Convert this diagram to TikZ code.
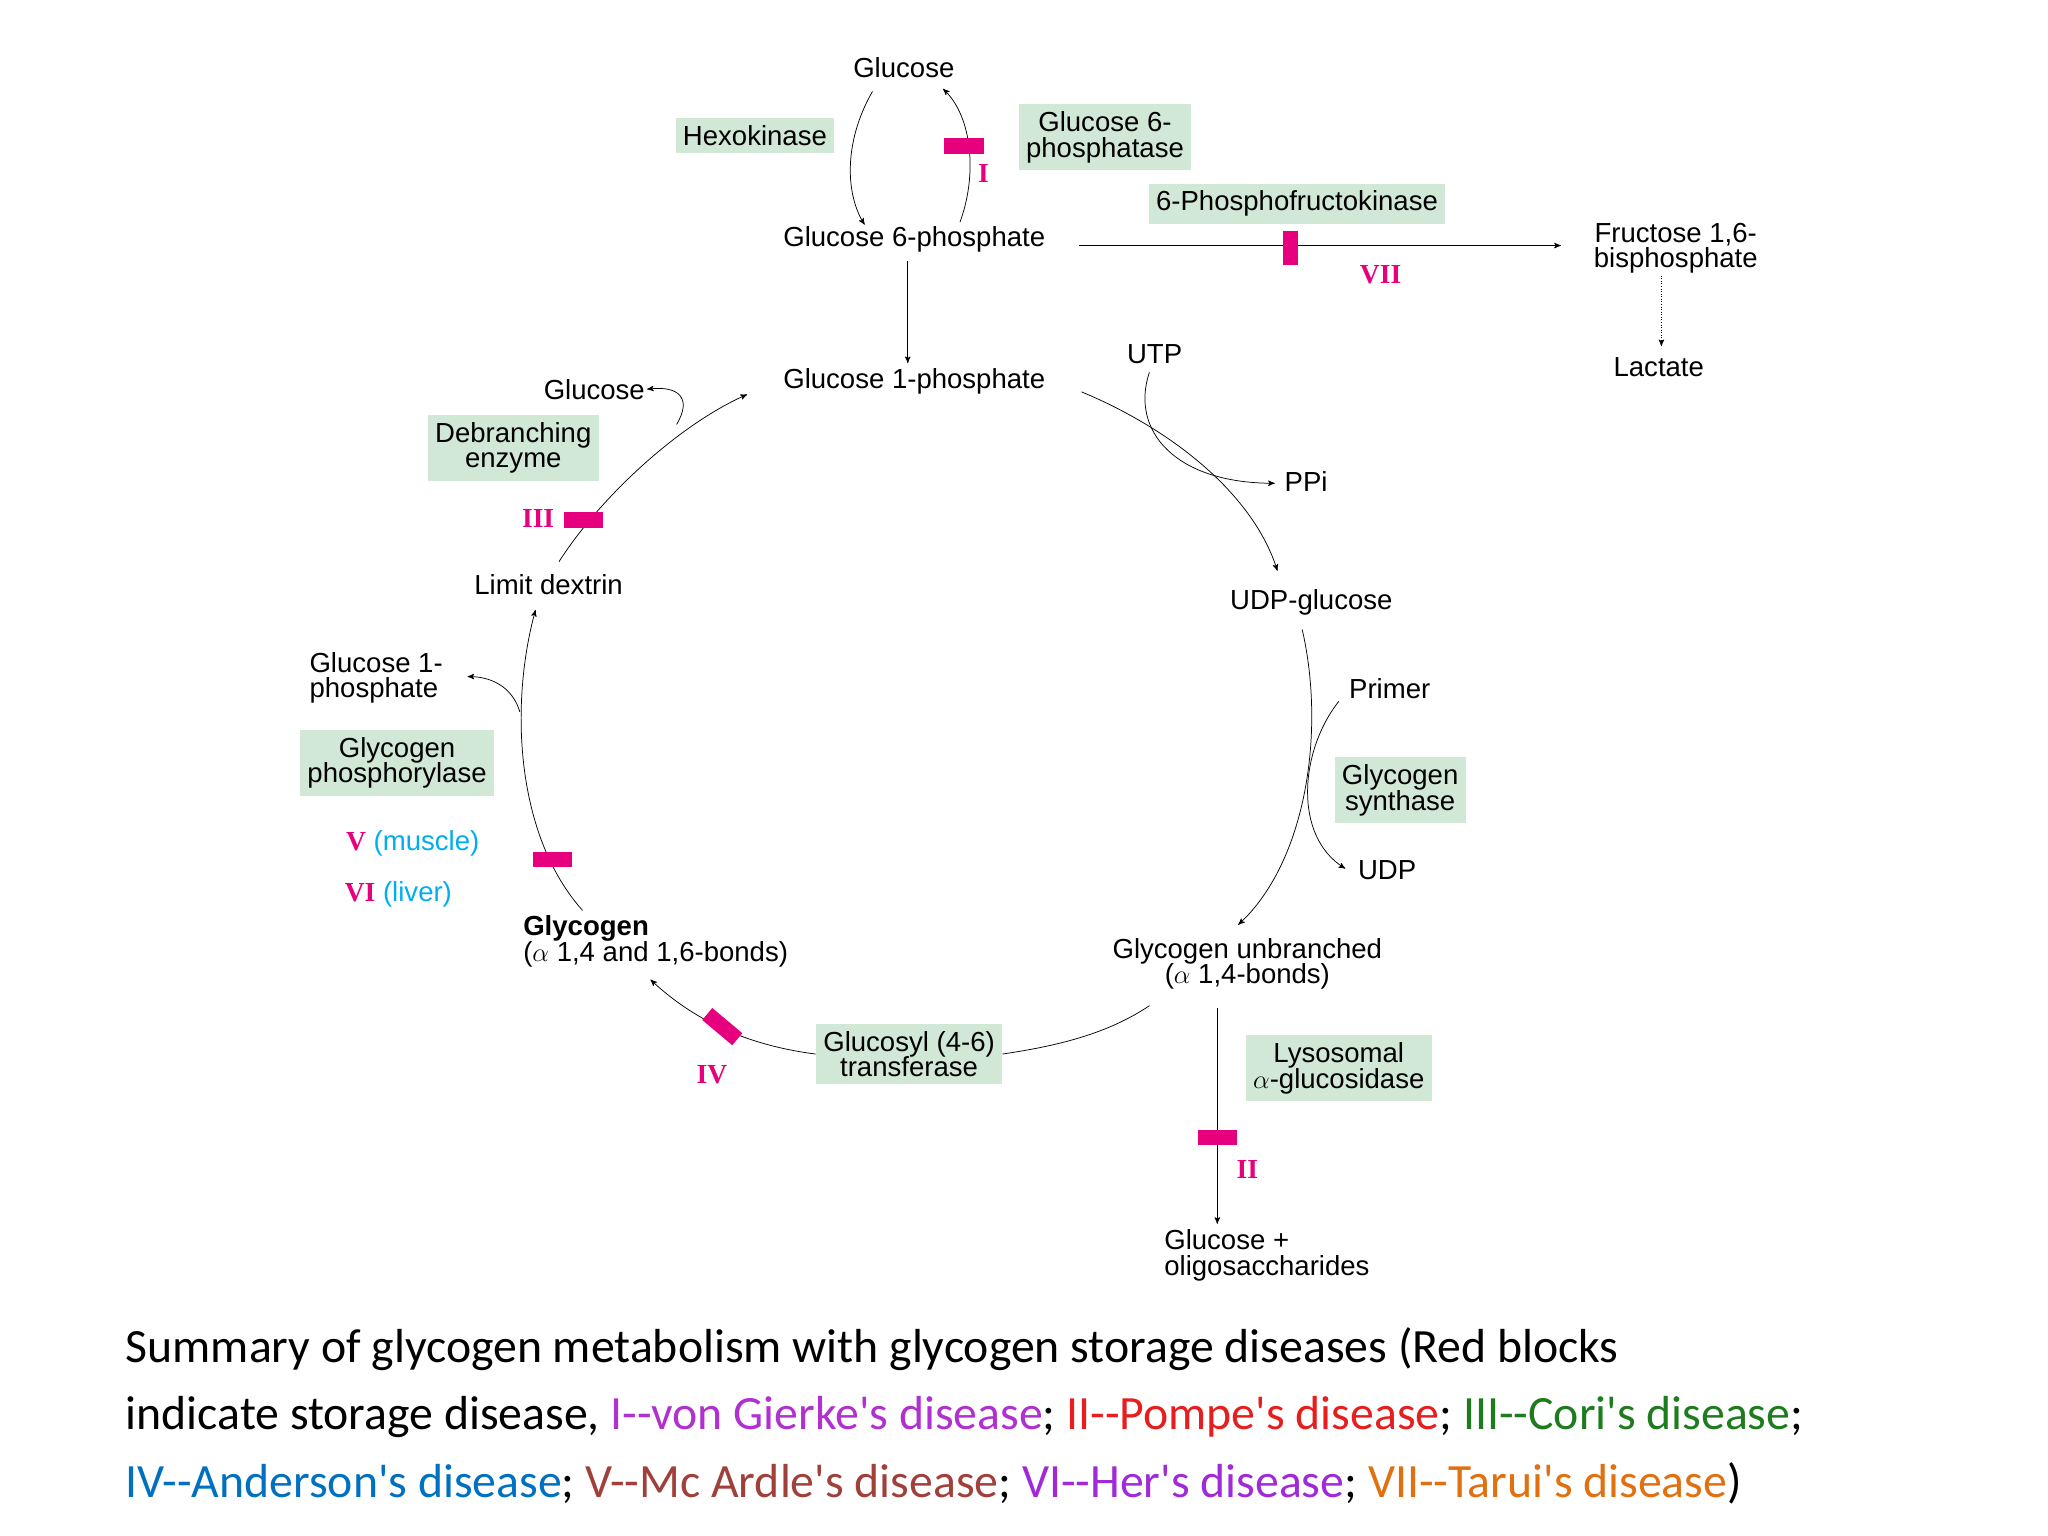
\documentclass[tikz,border=0pt]{standalone}
\usepackage{fontspec}
\setmainfont{Liberation Sans}
\newfontfamily\capfont{Carlito}
\newfontfamily\numfont{Liberation Serif}
\usetikzlibrary{arrows,shapes}
\definecolor{boxgreen}{RGB}{210,232,214}
\definecolor{blockred}{RGB}{230,0,126}
\definecolor{labcyan}{RGB}{0,174,239}
\tikzset{
  lbl/.style={font=\fontsize{15}{17}\selectfont, align=center, inner sep=1pt},
  enz/.style={lbl, fill=boxgreen, inner sep=4pt},
  blk/.style={fill=blockred, inner sep=0pt, minimum width=0.75cm, minimum height=0.3cm},
  rom/.style={font=\fontsize{15}{17}\numfont\bfseries, text=blockred, inner sep=1pt},
  flow/.style={->, >=stealth', thin},
}
\begin{document}
\begin{tikzpicture}[x=0.025cm, y=-0.025cm]
\useasboundingbox (0,0) rectangle (1568,1176);
% top part
\node[lbl] (glc) at (692,52) {Glucose};
\node[lbl] (g6p) at (700,183) {Glucose 6-phosphate};
\node[enz] (hex) at (578,104) {Hexokinase};
\node[enz] (g6pase) at (846,105) {Glucose 6-\\[-3pt]phosphatase};
\coordinate (a1) at (668,70); \coordinate (a2) at (662,172);
\coordinate (b1) at (735,170); \coordinate (b2) at (722,68);
\draw[flow] (a1) .. controls (645,110) and (648,150) .. (a2);
\draw[flow] (b1) .. controls (748,135) and (745,90) .. (b2);
\node[blk] (blkI) at (738,112) {};
\node[rom] (rI) at (753,133) {I};
\node[enz] (pfk) at (993,156) {6-Phosphofructokinase};
\node[lbl] (f16bp) at (1283,190) {Fructose 1,6-\\[-3pt]bisphosphate};
\node[lbl] (lac) at (1270,281) {Lactate};
\coordinate (c1) at (826,188); \coordinate (c2) at (1195,188);
\draw[flow] (c1) -- (c2);
\node[blk, minimum width=0.3cm, minimum height=0.65cm] (blkVII) at (988,190) {};
\node[rom] (rVII) at (1057,210) {VII};
\draw[flow, densely dotted] (f16bp.south) ++(-11,0) coordinate (d1) -- (1272,265) coordinate (d2);
% glucose 1-phosphate and synthesis
\node[lbl] (g1p) at (700,292) {Glucose 1-phosphate};
\draw[flow] (695,200) coordinate (e1) -- (695,278) coordinate (e2);
\node[lbl] (utp) at (884,271) {UTP};
\node[lbl] (ppi) at (1000,369) {PPi};
\node[lbl] (udpg) at (1004,461) {UDP-glucose};
\coordinate (f1) at (828,300); \coordinate (f2) at (978,437);
\draw[flow] (f1) .. controls (900,330) and (960,380) .. (f2);
\coordinate (u1) at (880,285); \coordinate (u2) at (976,370);
\draw[flow] (u1) .. controls (865,330) and (900,370) .. (u2);
\node[lbl] (primer) at (1064,527) {Primer};
\node[enz] (gs) at (1072,605) {Glycogen\\[-3pt]synthase};
\node[lbl] (udp) at (1062,666) {UDP};
\coordinate (g1) at (997,482); \coordinate (g2) at (948,708);
\draw[flow] (g1) .. controls (1015,560) and (1000,660) .. (g2);
\coordinate (p1) at (1025,537); \coordinate (p2) at (1030,665);
\draw[flow] (p1) .. controls (995,575) and (990,640) .. (p2);
\node[lbl] (gun) at (955,738) {Glycogen unbranched\\[-3pt]($\alpha$ 1,4-bonds)};
% lysosomal
\node[enz] (lys) at (1025,818) {Lysosomal\\[-3pt]$\alpha$-glucosidase};
\node[lbl, align=left] (oligo) at (970,961) {Glucose +\\[-3pt]oligosaccharides};
\draw[flow] (932,772) coordinate (h1) -- (932,937) coordinate (h2);
\node[blk] (blkII) at (932,871) {};
\node[rom] (rII) at (955,895) {II};
% branching
\node[enz] (gt) at (696,807) {Glucosyl (4-6)\\[-3pt]transferase};
\node[lbl, align=left] (gly) at (502,721) {\textbf{Glycogen}\\[-3pt]($\alpha$ 1,4 and 1,6-bonds)};
\draw (880,770) .. controls (850,790) and (815,800) .. (gt.east);
\draw[flow] (gt.west) .. controls (570,800) and (530,780) .. (498,750) coordinate (k2);
\node[blk, rotate=-40] (blkIV) at (553,786) {};
\node[rom] (rIV) at (545,823) {IV};
% degradation
\node[lbl] (ldx) at (420,448) {Limit dextrin};
\node[enz] (gp) at (304,584) {Glycogen\\[-3pt]phosphorylase};
\node[lbl] (vm) at (316,646) {\textcolor{blockred}{\numfont\bfseries V} \textcolor{labcyan}{(muscle)}};
\node[lbl] (vl) at (305,685) {\textcolor{blockred}{\numfont\bfseries VI} \textcolor{labcyan}{(liver)}};
\node[lbl, align=left] (g1pb) at (288,519) {Glucose 1-\\[-3pt]phosphate};
\coordinate (m1) at (446,697); \coordinate (m2) at (410,467);
\draw[flow] (m1) .. controls (395,640) and (390,540) .. (m2);
\coordinate (n1) at (398,545);
\draw[flow] (n1) .. controls (392,525) and (375,518) .. (358,518) coordinate (n2);
\node[blk] (blkV) at (423,658) {};
\node[enz] (deb) at (393,343) {Debranching\\[-3pt]enzyme};
\node[lbl] (glc2) at (455,298) {Glucose};
\coordinate (q1) at (428,430); \coordinate (q2) at (572,302);
\draw[flow] (q1) .. controls (460,380) and (520,325) .. (q2);
\coordinate (r1) at (518,325);
\draw[flow] (r1) .. controls (530,305) and (520,295) .. (glc2.east);
\node[blk] (blkIII) at (447,398) {};
\node[rom] (rIII) at (412,397) {III};
% caption
\node[anchor=west, align=left, inner sep=0pt, font=\fontsize{26}{37}\capfont] (cap) at (96,1084)
{Summary of glycogen metabolism with glycogen storage diseases (Red blocks\\
indicate storage disease, \textcolor[RGB]{176,48,208}{I--von Gierke's disease}; \textcolor[RGB]{230,30,30}{II--Pompe's disease}; \textcolor[RGB]{30,123,30}{III--Cori's disease};\\
\textcolor[RGB]{0,112,192}{IV--Anderson's disease}; \textcolor[RGB]{160,64,58}{V--Mc Ardle's disease}; \textcolor[RGB]{160,42,216}{VI--Her's disease}; \textcolor[RGB]{224,112,16}{VII--Tarui's disease})};
\end{tikzpicture}
\end{document}
